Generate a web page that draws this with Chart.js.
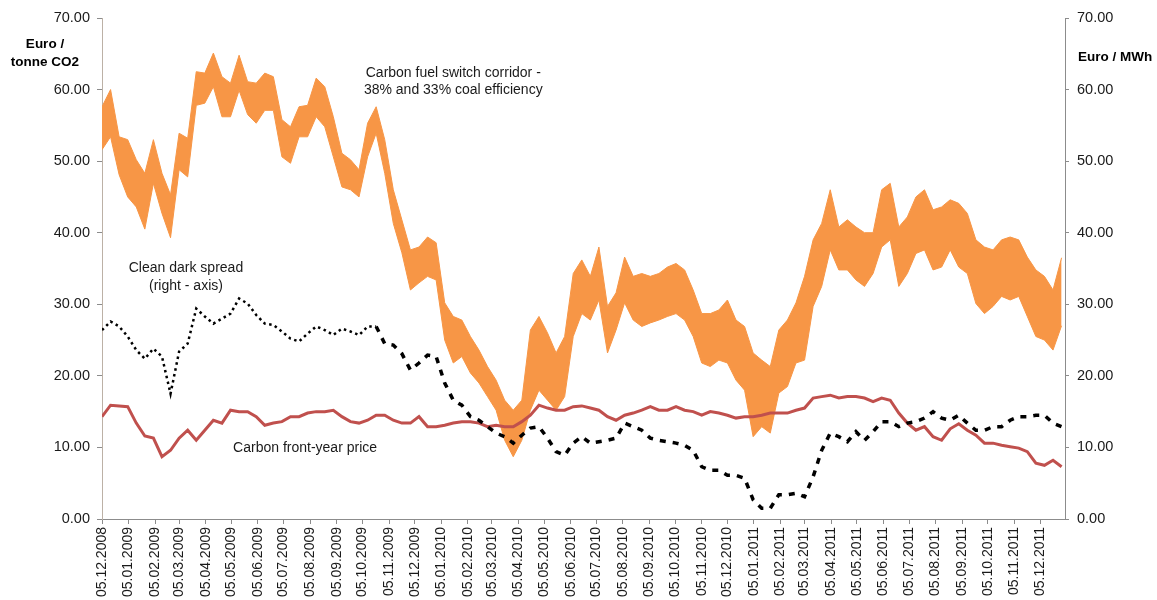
<!DOCTYPE html>
<html>
<head>
<meta charset="utf-8">
<script src="https://cdn.jsdelivr.net/npm/chart.js@4.4.1/dist/chart.umd.min.js"></script>
<style>
  html, body { margin: 0; padding: 0; background: #fff; }
  #wrap { width: 1157px; height: 600px; }
</style>
</head>
<body>
<div id="wrap"><canvas id="chart" width="1157" height="600"></canvas></div>
<script>
// values read every 10 days from 05.12.2008
const step = 10;

// fuel switch corridor, top and bottom edge (Euro / tonne CO2)
const corridorHigh = [57.6, 60.0, 53.4, 53.0, 50.2, 48.3, 53.0, 48.3, 45.3, 53.9,
  53.2, 62.5, 62.3, 65.1, 61.8, 60.9, 64.8, 61.1, 60.9, 62.3,
  61.8, 55.8, 54.8, 57.6, 57.8, 61.6, 60.4, 56.2, 51.1, 50.2,
  48.8, 55.3, 57.6, 53.0, 46.0, 41.8, 37.6, 38.0, 39.4, 38.6,
  30.2, 28.3, 27.8, 25.5, 23.6, 21.3, 19.4, 16.6, 15.2, 16.6,
  26.4, 28.3, 26.0, 23.2, 25.5, 34.3, 36.2, 33.9, 38.0, 29.7,
  31.6, 36.6, 33.9, 34.3, 33.9, 34.3, 35.2, 35.7, 34.8, 32.0,
  28.7, 28.7, 29.2, 30.6, 27.8, 26.9, 23.2, 22.2, 21.3, 26.4,
  27.8, 30.2, 33.9, 39.0, 41.3, 46.0, 40.8, 41.8, 40.8, 40.0,
  40.0, 46.0, 46.9, 40.8, 42.2, 45.0, 46.0, 43.2, 43.6, 44.6,
  44.1, 42.7, 39.0, 38.0, 37.6, 39.0, 39.4, 39.0, 36.6, 34.8,
  33.9, 32.0, 36.5];
const corridorLow = [51.6, 53.4, 48.1, 45.0, 43.6, 40.5, 46.9, 42.7, 39.3, 48.8,
  47.8, 57.8, 58.1, 60.4, 56.2, 56.2, 59.9, 56.5, 55.3, 57.1,
  57.1, 50.6, 49.7, 53.4, 53.4, 56.2, 54.8, 50.6, 46.4, 46.0,
  45.0, 50.6, 53.9, 48.3, 41.3, 37.2, 32.0, 33.0, 33.9, 33.4,
  25.0, 21.8, 22.7, 20.4, 19.0, 17.1, 15.2, 11.0, 8.7, 11.0,
  15.2, 18.0, 16.6, 15.2, 17.1, 25.5, 28.7, 27.8, 30.6, 23.2,
  26.4, 30.2, 27.8, 26.9, 27.4, 27.8, 28.3, 28.7, 27.8, 25.5,
  21.8, 21.3, 22.2, 21.8, 19.4, 18.0, 11.5, 12.9, 12.0, 17.6,
  18.5, 21.8, 22.2, 29.7, 32.5, 37.6, 34.8, 34.8, 33.4, 32.5,
  34.3, 38.0, 39.0, 32.5, 34.3, 37.1, 37.6, 34.8, 35.2, 37.6,
  35.2, 34.3, 30.1, 28.7, 29.7, 31.1, 30.6, 31.1, 28.3, 25.5,
  25.0, 23.6, 27.0];

// carbon front-year price (Euro / tonne CO2)
const carbonPrice = [14.3, 15.9, 15.8, 15.7, 13.4, 11.6, 11.3, 8.7, 9.6, 11.3,
  12.4, 11.0, 12.4, 13.8, 13.4, 15.2, 15.0, 15.0, 14.3, 13.1,
  13.4, 13.6, 14.3, 14.3, 14.8, 15.0, 15.0, 15.2, 14.3, 13.6,
  13.4, 13.8, 14.5, 14.5, 13.8, 13.4, 13.4, 14.3, 12.9, 12.9,
  13.1, 13.4, 13.6, 13.6, 13.4, 12.9, 13.1, 12.9, 12.9, 13.6,
  14.5, 15.9, 15.5, 15.2, 15.2, 15.7, 15.8, 15.5, 15.2, 14.3,
  13.8, 14.5, 14.8, 15.2, 15.7, 15.2, 15.2, 15.7, 15.2, 15.0,
  14.5, 15.0, 14.8, 14.5, 14.1, 14.3, 14.3, 14.5, 14.8, 14.8,
  14.8, 15.2, 15.5, 16.9, 17.1, 17.3, 16.9, 17.1, 17.1, 16.9,
  16.4, 16.9, 16.6, 14.8, 13.4, 12.4, 12.9, 11.5, 11.0, 12.6,
  13.3, 12.4, 11.7, 10.6, 10.6, 10.3, 10.1, 9.9, 9.4, 7.8,
  7.5, 8.2, 7.3];

// clean dark spread (Euro / MWh, right axis)
const darkSpread = [26.4, 27.6, 26.9, 25.5, 23.6, 22.4, 23.8, 22.7, 17.5, 23.4,
  24.5, 29.4, 28.3, 27.3, 28.0, 28.7, 30.8, 30.1, 28.5, 27.3,
  27.1, 26.2, 25.2, 24.8, 25.9, 26.9, 26.4, 25.7, 26.6, 26.2,
  25.7, 26.9, 26.9, 24.5, 24.3, 23.1, 20.8, 21.8, 22.9, 22.7,
  19.0, 16.6, 15.9, 14.3, 13.8, 12.9, 12.0, 11.5, 10.6, 11.7,
  12.7, 12.9, 11.3, 9.4, 8.9, 10.6, 11.5, 10.6, 10.8, 11.0,
  11.3, 13.4, 12.9, 12.4, 11.3, 11.0, 10.8, 10.6, 10.3, 9.6,
  7.3, 6.8, 6.8, 6.1, 6.1, 5.7, 2.7, 1.5, 1.5, 3.4,
  3.4, 3.6, 3.1, 5.9, 9.6, 12.0, 11.5, 10.8, 12.2, 11.0,
  12.2, 13.6, 13.6, 12.9, 13.4, 13.6, 14.1, 15.0, 14.1, 13.8,
  14.5, 13.4, 12.4, 12.4, 12.9, 12.9, 13.8, 14.3, 14.3, 14.5,
  14.5, 13.4, 12.9];

const tickLabels = ["05.12.2008", "05.01.2009", "05.02.2009", "05.03.2009", "05.04.2009",
  "05.05.2009", "05.06.2009", "05.07.2009", "05.08.2009", "05.09.2009", "05.10.2009",
  "05.11.2009", "05.12.2009", "05.01.2010", "05.02.2010", "05.03.2010", "05.04.2010",
  "05.05.2010", "05.06.2010", "05.07.2010", "05.08.2010", "05.09.2010", "05.10.2010",
  "05.11.2010", "05.12.2010", "05.01.2011", "05.02.2011", "05.03.2011", "05.04.2011",
  "05.05.2011", "05.06.2011", "05.07.2011", "05.08.2011", "05.09.2011", "05.10.2011",
  "05.11.2011", "05.12.2011"];

const startDay = Date.UTC(2008, 11, 5);
function toDay(label) {
  const [d, m, y] = label.split(".").map(Number);
  return (Date.UTC(y, m - 1, d) - startDay) / 86400000;
}
const tickDays = tickLabels.map(toDay);

function points(values) {
  return values.map((v, i) => ({ x: i * step, y: v }));
}

const font = "'Liberation Sans', Arial, sans-serif";
const orange = "#f79646";

// text notes drawn on the chart
const notesPlugin = {
  id: "notes",
  afterDatasetsDraw(chart) {
    const c = chart.ctx;
    const xs = chart.scales.x;
    const ys = chart.scales.y;
    c.save();
    c.fillStyle = "#1a1a1a";
    c.textBaseline = "middle";
    c.font = "14px " + font;
    c.textAlign = "center";
    c.fillText("Carbon fuel switch corridor -", xs.getPixelForValue(410), ys.getPixelForValue(62.3));
    c.fillText("38% and 33% coal efficiency", xs.getPixelForValue(410), ys.getPixelForValue(59.9));
    c.fillText("Clean dark spread", xs.getPixelForValue(98), ys.getPixelForValue(35.1));
    c.fillText("(right - axis)", xs.getPixelForValue(98), ys.getPixelForValue(32.6));
    c.textAlign = "left";
    c.fillText("Carbon front-year price", xs.getPixelForValue(153), ys.getPixelForValue(9.9));

    // axis titles
    c.font = "bold 13.5px " + font;
    c.fillStyle = "#000";
    c.textAlign = "center";
    c.fillText("Euro /", 45, 44);
    c.fillText("tonne CO2", 45, 62);
    c.textAlign = "left";
    c.fillText("Euro / MWh", 1078, 57);
    c.restore();
  }
};

const ctx = document.getElementById("chart").getContext("2d");

new Chart(ctx, {
  type: "line",
  data: {
    datasets: [
      {
        label: "Clean dark spread",
        data: points(darkSpread),
        yAxisID: "y2",
        borderColor: "#000",
        borderWidth: 3,
        pointRadius: 0,
        fill: false,
        order: 0,
        segment: {
          borderDash: (s) => (s.p0.parsed.x < 320 ? [2.5, 3.5] : [6, 7]),
          borderWidth: (s) => (s.p0.parsed.x < 320 ? 2.5 : 3.5)
        }
      },
      {
        label: "Carbon front-year price",
        data: points(carbonPrice),
        yAxisID: "y",
        borderColor: "#c0504d",
        borderWidth: 3,
        pointRadius: 0,
        fill: false,
        order: 1
      },
      {
        label: "Corridor high",
        data: points(corridorHigh),
        yAxisID: "y",
        borderColor: orange,
        backgroundColor: orange,
        borderWidth: 1,
        pointRadius: 0,
        fill: "+1",
        order: 2
      },
      {
        label: "Corridor low",
        data: points(corridorLow),
        yAxisID: "y",
        borderColor: orange,
        borderWidth: 1,
        pointRadius: 0,
        fill: false,
        order: 3
      }
    ]
  },
  options: {
    responsive: false,
    animation: false,
    devicePixelRatio: 1,
    layout: { padding: { top: 18, left: 0, right: 0, bottom: 0 } },
    plugins: {
      legend: { display: false },
      tooltip: { enabled: false }
    },
    scales: {
      x: {
        type: "linear",
        min: 0,
        max: 1124,
        afterFit: (scale) => { scale.height = 81; },
        afterBuildTicks: (scale) => {
          scale.ticks = tickDays.map((v) => ({ value: v }));
        },
        ticks: {
          autoSkip: false,
          minRotation: 90,
          maxRotation: 90,
          padding: 3,
          color: "#1a1a1a",
          font: { family: font, size: 14 },
          callback: (value, index) => tickLabels[index]
        },
        grid: { drawOnChartArea: false, tickLength: 5, color: "#8c8c8c" },
        border: { color: "#8c8c8c" }
      },
      y: {
        position: "left",
        min: 0,
        max: 70,
        afterFit: (scale) => { scale.width = 102; },
        ticks: {
          stepSize: 10,
          padding: 7,
          color: "#1a1a1a",
          font: { family: font, size: 14.5 },
          callback: (v) => v.toFixed(2)
        },
        grid: { drawOnChartArea: false, tickLength: 5, color: "#8c8c8c" },
        border: { color: "#bcb1a6" }
      },
      y2: {
        position: "right",
        min: 0,
        max: 70,
        afterFit: (scale) => { scale.width = 92; },
        ticks: {
          stepSize: 10,
          padding: 8,
          color: "#1a1a1a",
          font: { family: font, size: 14.5 },
          callback: (v) => v.toFixed(2)
        },
        grid: { drawOnChartArea: false, tickLength: 4, color: "#8c8c8c" },
        border: { color: "#8c8c8c" }
      }
    }
  },
  plugins: [notesPlugin]
});
</script>
</body>
</html>
